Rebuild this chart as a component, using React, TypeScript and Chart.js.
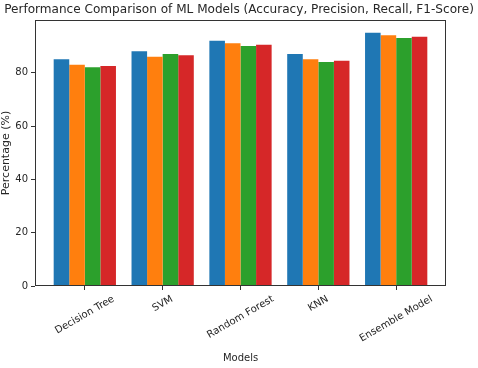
import React, { useEffect, useRef } from 'react';
import { Chart, registerables } from 'chart.js';
Chart.register(...registerables);

const models = ['Decision Tree', 'SVM', 'Random Forest', 'KNN', 'Ensemble Model'];
const seriesNames = ['Accuracy', 'Precision', 'Recall', 'F1-Score'];
const accuracy = [85, 88, 92, 87, 95];
const precision = [83, 86, 91, 85, 94];
const recall = [82, 87, 90, 84, 93];
const f1Score = [82.5, 86.5, 90.5, 84.5, 93.5];
const colors = ['#1f77b4', '#ff7f0e', '#2ca02c', '#d62728'];
const yTickValues = [0, 20, 40, 60, 80];
const chartTitle = 'Performance Comparison of ML Models (Accuracy, Precision, Recall, F1-Score)';

const FONT = '"DejaVu Sans", sans-serif';
const TICK_SIZE = 10;
const TITLE_WIDTH = 470;
const TEXT_COLOR = '#262626';
const AXIS_COLOR = '#333333';

const frameAndLabels = {
  id: 'frameAndLabels',
  afterDatasetsDraw(chart: any) {
    const { ctx, chartArea } = chart;
    ctx.save();
    ctx.strokeStyle = AXIS_COLOR;
    ctx.lineWidth = 1;
    ctx.strokeRect(
      Math.round(chartArea.left) + 0.5,
      Math.round(chartArea.top) + 0.5,
      Math.round(chartArea.right - chartArea.left) - 1,
      Math.round(chartArea.bottom - chartArea.top) - 1
    );
    ctx.restore();
  },
  afterDraw(chart: any) {
    const { ctx, chartArea } = chart;
    const x = chart.scales.x;
    ctx.save();
    // title, sized to the reference's width
    ctx.font = `12px ${FONT}`;
    const w12 = ctx.measureText(chartTitle).width;
    const titleSize = Math.min(13, (12 * TITLE_WIDTH) / w12);
    ctx.font = `${titleSize}px ${FONT}`;
    ctx.fillStyle = TEXT_COLOR;
    ctx.textAlign = 'center';
    ctx.textBaseline = 'middle';
    ctx.fillText(chartTitle, chart.width / 2, 9.5);
    // rotated category labels
    ctx.font = `${TICK_SIZE}px ${FONT}`;
    const ang = Math.PI / 6;
    models.forEach((m, i) => {
      const px = x.getPixelForValue(i);
      const w = ctx.measureText(m).width;
      const h = TICK_SIZE * 1.0;
      const H = w * Math.sin(ang) + h * Math.cos(ang);
      const cy = chartArea.bottom + 8 + H / 2;
      ctx.save();
      ctx.translate(px, cy);
      ctx.rotate(-ang);
      ctx.textAlign = 'center';
      ctx.textBaseline = 'middle';
      ctx.fillText(m, 0, 0);
      ctx.restore();
    });
    ctx.restore();
  },
};

export default function App() {
  const ref = useRef<HTMLCanvasElement>(null);
  useEffect(() => {
    document.body.style.margin = '0';
    const series = [accuracy, precision, recall, f1Score];
    const chart = new Chart(ref.current!, {
      type: 'bar',
      data: {
        datasets: series.map((vals, si) => ({
          label: seriesNames[si],
          data: vals.map((v, i) => ({ x: i, y: v })),
          backgroundColor: colors[si],
          borderWidth: 0,
          categoryPercentage: 0.8,
          barPercentage: 1.0,
        })),
      },
      options: {
        animation: false,
        responsive: false,
        maintainAspectRatio: false,
        layout: { padding: { top: 20, right: 32, bottom: 0, left: 0 } },
        plugins: {
          legend: { display: false },
          tooltip: { enabled: false },
          title: { display: false },
        },
        scales: {
          x: {
            type: 'linear',
            min: -0.64,
            max: 4.64,
            offset: false,
            afterFit: (s: any) => { s.height = 82; },
            afterBuildTicks: (s: any) => { s.ticks = models.map((_, i) => ({ value: i })); },
            ticks: { display: false, autoSkip: false },
            grid: { offset: false, drawOnChartArea: false, drawTicks: true, tickLength: 4, color: AXIS_COLOR },
            border: { display: false },
            title: {
              display: true,
              text: 'Models',
              color: TEXT_COLOR,
              font: { family: FONT, size: TICK_SIZE },
              padding: { top: 0, bottom: 4 },
            },
          },
          y: {
            min: 0,
            max: 99.75,
            afterFit: (s: any) => { s.width = 35; },
            afterBuildTicks: (s: any) => { s.ticks = yTickValues.map((v) => ({ value: v })); },
            ticks: {
              color: TEXT_COLOR,
              font: { family: FONT, size: TICK_SIZE },
              padding: 3,
            },
            grid: { offset: false, drawOnChartArea: false, drawTicks: true, tickLength: 4, color: AXIS_COLOR },
            border: { display: false },
            title: {
              display: true,
              text: 'Percentage (%)',
              color: TEXT_COLOR,
              font: { family: FONT, size: 11 },
              padding: { top: 0, bottom: 0 },
            },
          },
        },
      },
      plugins: [frameAndLabels],
    });
    return () => chart.destroy();
  }, []);
  return (
    <div style={{ width: 478, height: 368 }}>
      <canvas ref={ref} width={478} height={368} style={{ display: 'block' }} />
    </div>
  );
}
